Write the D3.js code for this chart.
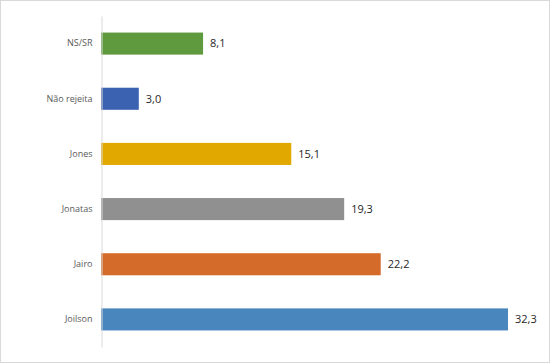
<!DOCTYPE html>
<meta charset="utf-8">
<script src="https://d3js.org/d3.v7.min.js"></script>
<style>
  body { margin: 0; background: #fff; }
  svg { display: block; }
</style>
<div id="chart"></div>
<script>

// data
var categories = ["NS/SR", "Não rejeita", "Jones", "Jonatas", "Jairo", "Joilson"];
var values = [8.1, 3.0, 15.1, 19.3, 22.2, 32.3];
var colors = ["#5F9A3E", "#3A62B0", "#E1A900", "#909090", "#D46B2A", "#4A86BE"];

var W = 550, H = 363;
var margin = {top: 16, right: 8, bottom: 16, left: 101};

var svg = d3.select("#chart")
  .append("svg")
    .attr("width", W)
    .attr("height", H);

// outer frame
svg.append("rect")
  .attr("x", 0.5).attr("y", 0.5)
  .attr("width", W - 1).attr("height", H - 1)
  .attr("fill", "#fff")
  .attr("stroke", "#d9d9d9");

var g = svg.append("g")
  .attr("transform", "translate(" + margin.left + "," + margin.top + ")");

var width = W - margin.left - margin.right,
    height = H - margin.top - margin.bottom;

var x = d3.scaleLinear()
  .domain([0, 35])
  .range([0, 441]);

var y = d3.scaleBand()
  .domain(categories)
  .range([0, height - 0])
  .paddingInner(0.6)
  .paddingOuter(0.3);

// bars
g.selectAll("rect.bar")
  .data(values)
  .enter()
  .append("rect")
    .attr("class", "bar")
    .attr("x", 0)
    .attr("y", function(d, i) { return y(categories[i]); })
    .attr("width", function(d) { return x(d); })
    .attr("height", y.bandwidth())
    .attr("fill", function(d, i) { return colors[i]; });

// value labels
g.selectAll("text.val")
  .data(values)
  .enter()
  .append("text")
    .attr("class", "val")
    .attr("x", function(d) { return x(d) + 7; })
    .attr("y", function(d, i) { return y(categories[i]) + y.bandwidth() / 2; })
    .attr("dy", "0.35em")
    .attr("font-family", "'Open Sans', sans-serif")
    .attr("font-size", "11px")
    .attr("fill", "#262626")
    .text(function(d) { return d3.format(".1f")(d).replace(".", ","); });

// category axis
var yAxis = g.append("g")
  .attr("transform", "translate(0.5,0)")
  .call(d3.axisLeft(y).tickSize(0).tickPadding(9));

yAxis.select(".domain").attr("stroke", "#d9d9d9");
yAxis.selectAll("text")
  .attr("font-family", "'Open Sans', sans-serif")
  .attr("font-size", "9px")
  .attr("fill", "#595959");

</script>
